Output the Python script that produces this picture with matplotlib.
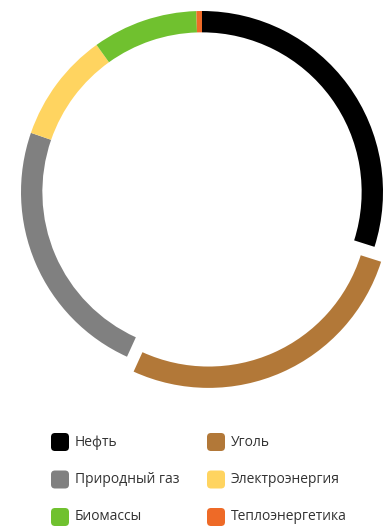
import matplotlib
matplotlib.use('Agg')
import matplotlib.pyplot as plt
from matplotlib.patches import FancyBboxPatch

# Структура потребления энергии, %
labels = ['Нефть', 'Уголь', 'Природный газ', 'Электроэнергия', 'Биомассы', 'Теплоэнергетика']
shares = [29.9, 26.9, 23.5, 9.8, 9.4, 0.5]
colors = ['#000000', '#B27838', '#808080', '#FFD460', '#70C12F', '#EE6A27']
explode = [0, 0.09, 0, 0, 0, 0]

W, H = 384, 527
fig = plt.figure(figsize=(W / 100, H / 100), dpi=100)

# кольцевая диаграмма: центр (202, 192) px, радиус 181 px
cx, cy, r = 202, 192, 181
ax = fig.add_axes([(cx - r) / W, (H - cy - r) / H, 2 * r / W, 2 * r / H])
wedges, _ = ax.pie(shares, colors=colors, explode=explode, startangle=90,
                   counterclock=False, radius=1.0,
                   wedgeprops=dict(width=0.118, linewidth=0))
for w in wedges:
    w.set_clip_on(False)
ax.set_xlim(-1, 1)
ax.set_ylim(-1, 1)
ax.set_aspect('equal')
ax.axis('off')

# легенда в две колонки
lax = fig.add_axes([0, 0, 1, 1])
lax.set_xlim(0, W)
lax.set_ylim(H, 0)
lax.axis('off')

col_x = [51, 207]
row_y = [442, 479.5, 517]
size = 18
for i, (lab, col) in enumerate(zip(labels, colors)):
    x0 = col_x[i % 2]
    y0 = row_y[i // 2]
    box = FancyBboxPatch((x0, y0 - size / 2), size, size,
                         boxstyle='round,pad=0,rounding_size=4',
                         facecolor=col, edgecolor='none')
    lax.add_patch(box)
    lax.text(x0 + size + 6, y0, lab, fontsize=10, family='Open Sans',
             color='#333333', va='center', ha='left')

fig.savefig('out.png', dpi=100)
